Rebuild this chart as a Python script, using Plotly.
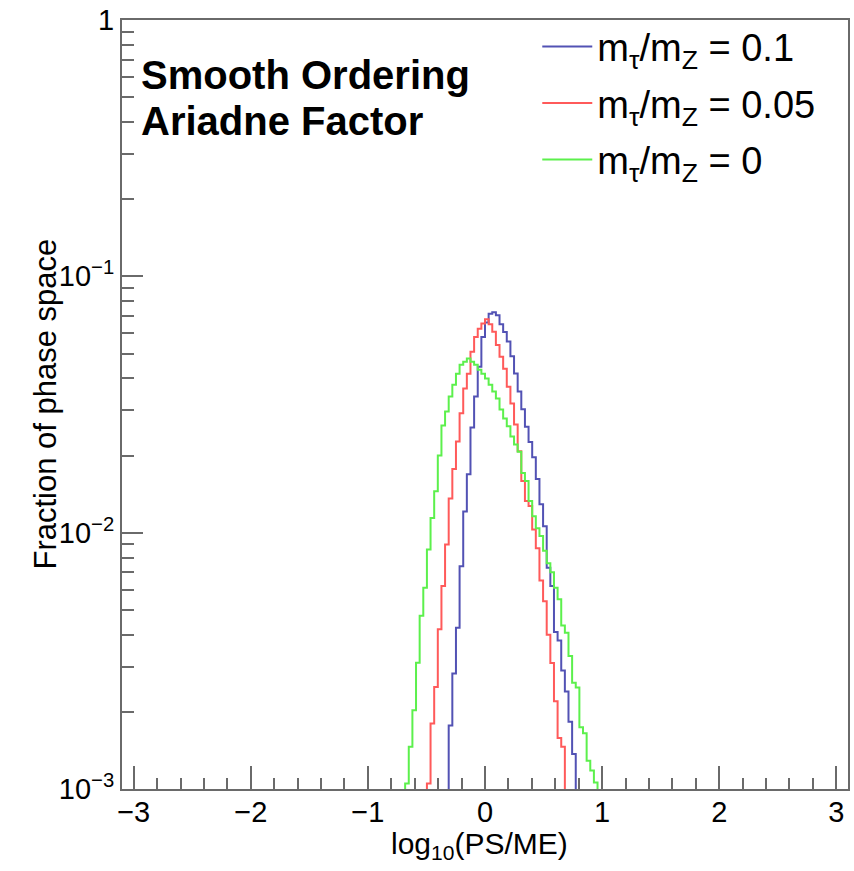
import plotly.graph_objects as go

# ---- histogram binning (200 bins over [-3.1, 3.1]) ----
X_MIN, X_MAX, N_BINS = -3.1, 3.1, 200
BIN_W = (X_MAX - X_MIN) / N_BINS

# ---- series: first non-empty bin index and bin contents ----
labels = ["m<sub>τ</sub>/m<sub>Z</sub> = 0.1",
          "m<sub>τ</sub>/m<sub>Z</sub> = 0.05",
          "m<sub>τ</sub>/m<sub>Z</sub> = 0"]

blue_first = 90
blue_vals = [1.77e-3, 2.82e-3, 4.26e-3, 7.4e-3, 0.0121, 0.0169, 0.0257, 0.034,
             0.0444, 0.058, 0.066, 0.0714, 0.0725, 0.0705, 0.065, 0.0607,
             0.0557, 0.0488, 0.0418, 0.0355, 0.0303, 0.0259, 0.0226, 0.0197,
             0.0162, 0.0129, 0.0106, 0.0073, 0.0062, 0.0041, 0.0038, 0.0029,
             0.0024, 0.00183, 0.00137]

red_first = 84
red_vals = [1.05e-3, 1.8e-3, 2.5e-3, 4.2e-3, 6.2e-3, 9.0e-3, 0.0136, 0.0177,
            0.0227, 0.0292, 0.0365, 0.0417, 0.0508, 0.058, 0.0624, 0.0655,
            0.068, 0.065, 0.0608, 0.054, 0.0486, 0.0436, 0.0371, 0.0319,
            0.0264, 0.0208, 0.0159, 0.0133, 0.0127, 0.0103, 0.0087, 0.0065,
            0.0054, 0.0040, 0.0031, 0.0022, 0.00158, 0.00146]

green_first = 78
green_vals = [1.05e-3, 1.46e-3, 2.03e-3, 3.11e-3, 4.74e-3, 6.1e-3, 8.6e-3,
              0.0114, 0.0145, 0.0200, 0.0262, 0.0297, 0.034, 0.0378, 0.0417,
              0.0452, 0.0464, 0.0478, 0.0464, 0.0452, 0.0432, 0.0417, 0.0399,
              0.0378, 0.0355, 0.0334, 0.0302, 0.0279, 0.026, 0.0237, 0.0221,
              0.0207, 0.0171, 0.0159, 0.0133, 0.0116, 0.0104, 0.0097, 0.0085,
              0.0076, 0.0070, 0.0061, 0.0055, 0.00434, 0.00407, 0.0033, 0.0026,
              0.00249, 0.00174, 0.00165, 0.00129, 0.00118, 0.00106]

colors = ["#5252b4", "#ff5a5a", "#5cf04c"]

x_ticks = [-3, -2, -1, 0, 1, 2, 3]
x_ticktext = ["−3", "−2", "−1", "0", "1", "2", "3"]
y_ticks = [1, 0.1, 0.01, 0.001]
y_ticktext = ["1", "10<sup>−1</sup>", "10<sup>−2</sup>", "10<sup>−3</sup>"]
y_minor = [m * 10.0 ** e for e in (-3, -2, -1) for m in range(2, 10)]

FLOOR = 1e-7  # empty bins (below the log axis)


def step_xy(first, vals):
    contents = [FLOOR] + list(vals) + [FLOOR]
    start = first - 1
    xs = [X_MIN + (start + i) * BIN_W for i in range(len(contents) + 1)]
    ys = contents + [FLOOR]
    return xs, ys


fig = go.Figure()
for i, ((first, vals), lab, col) in enumerate(zip(
        [(blue_first, blue_vals), (red_first, red_vals), (green_first, green_vals)],
        labels, colors)):
    xs, ys = step_xy(first, vals)
    fig.add_trace(go.Scatter(x=xs, y=ys, mode="lines", name=lab,
                             legendgroup=f"g{i}",
                             line=dict(color=col, width=2, shape="hv")))

FONT = "Liberation Sans, Arial, Helvetica, sans-serif"
AXC = "#6a6a6a"

fig.update_layout(
    width=854, height=871,
    margin=dict(l=122, r=4, t=17, b=82),
    paper_bgcolor="white", plot_bgcolor="white",
    font=dict(family=FONT, color="black"),
    showlegend=True,
    legend=dict(x=0.572, y=1.006, xanchor="left", yanchor="top",
                font=dict(size=38, family=FONT, color="black"),
                bgcolor="rgba(0,0,0,0)", itemwidth=50, tracegroupgap=4),
    xaxis=dict(range=[X_MIN, X_MAX], tickvals=x_ticks, ticktext=x_ticktext,
               ticks="inside", ticklen=23, tickwidth=2, tickcolor=AXC,
               ticklabelstandoff=-4,
               minor=dict(dtick=0.2, tick0=0, ticks="inside", ticklen=11,
                          tickwidth=2, tickcolor=AXC, showgrid=False),
               showline=True, linecolor=AXC, linewidth=2, mirror=True,
               showgrid=False, zeroline=False,
               tickfont=dict(size=29, family=FONT, color="black")),
    yaxis=dict(type="log", range=[-3, 0], tickvals=y_ticks, ticktext=y_ticktext,
               ticks="inside", ticklen=21, tickwidth=2, tickcolor=AXC,
               minor=dict(tickvals=y_minor, ticks="inside", ticklen=12,
                          tickwidth=2, tickcolor=AXC, showgrid=False),
               showline=True, linecolor=AXC, linewidth=2, mirror=True,
               showgrid=False, zeroline=False,
               tickfont=dict(size=29, family=FONT, color="black")),
)

fig.add_annotation(text="<b>Smooth Ordering</b>", xref="paper", yref="paper",
                   x=0.024, y=0.928, xanchor="left", yanchor="middle",
                   showarrow=False, font=dict(size=40, family=FONT, color="black"))
fig.add_annotation(text="<b>Ariadne Factor</b>", xref="paper", yref="paper",
                   x=0.024, y=0.869, xanchor="left", yanchor="middle",
                   showarrow=False, font=dict(size=40, family=FONT, color="black"))
fig.add_annotation(text="log<sub>10</sub>(PS/ME)", xref="paper", yref="paper",
                   x=0.493, y=-0.074, xanchor="center", yanchor="middle",
                   showarrow=False, font=dict(size=30, family=FONT, color="black"))
fig.add_annotation(text="Fraction of phase space", xref="paper", yref="paper",
                   x=-0.106, y=0.5, xanchor="center", yanchor="middle",
                   textangle=-90, showarrow=False,
                   font=dict(size=31, family=FONT, color="black"))

fig.write_html("out.html")
